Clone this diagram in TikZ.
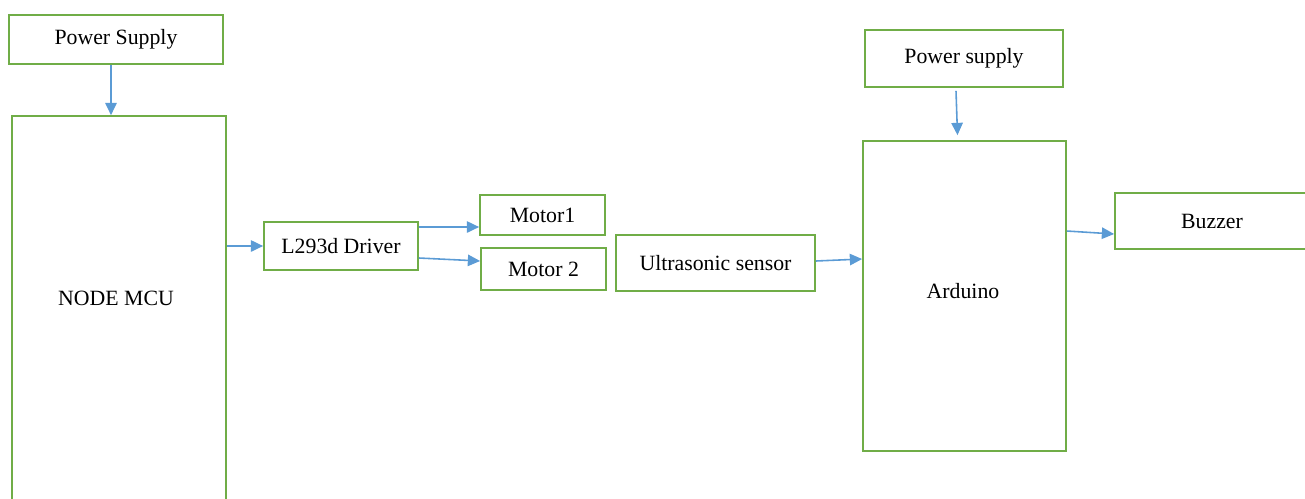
\documentclass[tikz,border=0pt]{standalone}
\usepackage{fontspec}
\setmainfont{Liberation Serif}
\usetikzlibrary{arrows.meta}
\definecolor{boxgreen}{RGB}{112,173,71}
\definecolor{arrowblue}{RGB}{91,155,213}

\begin{document}
\begin{tikzpicture}[x=0.02cm, y=-0.02cm,
  blk/.style={draw=boxgreen, line width=1pt, fill=white, inner sep=0pt, font=\fontsize{12.4}{14}\selectfont},
  link/.style={draw=arrowblue, line width=0.9pt, -{Triangle[length=7pt,width=6.5pt]}}]
\clip (0,0) rectangle (1305,498);
\node[blk, minimum width=4.28cm, minimum height=0.98cm] (supplyA) at (116,39.5) {Power Supply};
\node[blk, minimum width=4.28cm, minimum height=10.08cm] (nodemcu) at (119,368) {};
\node[font=\fontsize{12.4}{14}\selectfont] (nodemcutext) at (116,298) {NODE MCU};
\node[blk, minimum width=3.08cm, minimum height=0.96cm] (driver) at (341,246) {L293d Driver};
\node[blk, minimum width=2.5cm, minimum height=0.8cm] (motorA) at (542.5,215) {Motor1};
\node[blk, minimum width=2.5cm, minimum height=0.84cm] (motorB) at (543.5,269) {Motor 2};
\node[blk, minimum width=3.98cm, minimum height=1.12cm] (sensor) at (715.5,263) {Ultrasonic sensor};
\node[blk, minimum width=3.96cm, minimum height=1.14cm] (supplyB) at (964,58.5) {Power supply};
\node[blk, minimum width=4.06cm, minimum height=6.2cm] (arduino) at (964.5,296) {};
\node[font=\fontsize{12.4}{14}\selectfont] (arduinotext) at (963,291) {Arduino};
\node[blk, minimum width=3.88cm, minimum height=1.12cm] (buzzer) at (1212,221) {Buzzer};

\draw[link] ([xshift=-0.1cm]supplyA.south) -- ([xshift=-0.1cm]supplyA.south |- nodemcu.north);
\draw[link] (driver.west -| nodemcu.east) -- (driver.west);
\draw[link] ([yshift=0.38cm]driver.east) -- ([yshift=0.38cm]driver.east -| motorA.west);
\draw[link] ([yshift=-0.24cm]driver.east) -- ([yshift=0.16cm]motorB.west);
\draw[link] ([yshift=0.04cm]sensor.east) -- ([yshift=0.74cm]arduino.west);
\draw[link] ([xshift=-0.16cm,yshift=-0.06cm]supplyB.south) -- ([xshift=-0.14cm,yshift=0.1cm]arduino.north);
\draw[link] ([yshift=1.3cm]arduino.east) -- ([yshift=-0.26cm]buzzer.west);
\end{tikzpicture}
\end{document}
